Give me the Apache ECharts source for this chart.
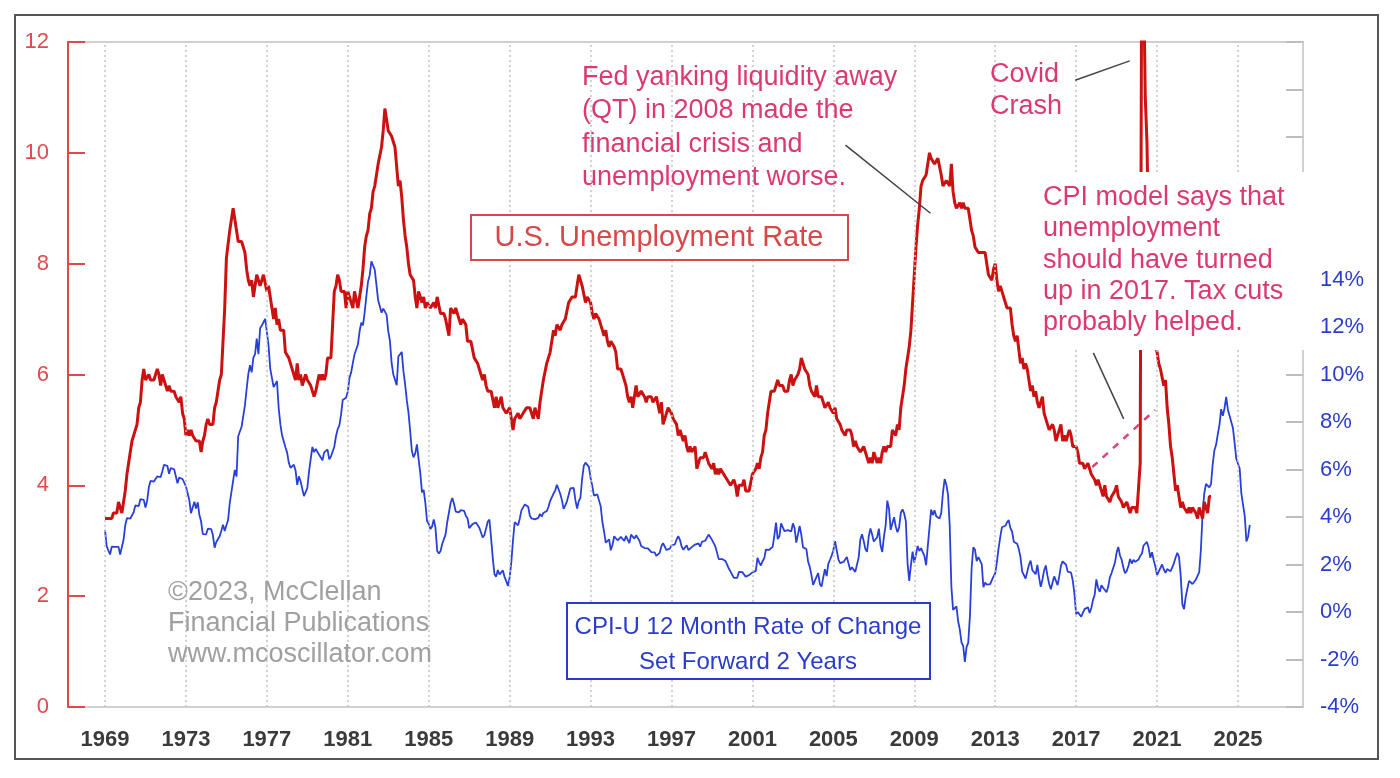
<!DOCTYPE html>
<html>
<head>
<meta charset="utf-8">
<script src="https://cdn.jsdelivr.net/npm/echarts@6/dist/echarts.min.js"></script>
<style>
html,body{margin:0;padding:0;background:#fff;}
#chart{width:1400px;height:778px;}
</style>
</head>
<body>
<div id="chart"></div>
<script>
// ---------------- DATA ----------------
const xTickYears = [1969,1973,1977,1981,1985,1989,1993,1997,2001,2005,2009,2013,2017,2021,2025];
const leftTicks = [0,2,4,6,8,10,12];
const rightTickLabels = ['-4%','-2%','0%','2%','4%','6%','8%','10%','12%','14%'];

// U.S. unemployment rate, monthly, starting Jan 1969
const unempStartYear = 1969;
const unemp1969_1978 = [
3.4,3.4,3.4,3.4,3.4,3.5,3.5,3.5,3.7,3.7,3.5,3.5,
3.9,4.2,4.4,4.6,4.8,4.9,5.0,5.1,5.4,5.5,5.9,6.1,
5.9,5.9,6.0,5.9,5.9,5.9,6.0,6.1,6.0,5.8,6.0,6.0,
5.8,5.7,5.8,5.7,5.7,5.7,5.6,5.6,5.5,5.6,5.3,5.2,
4.9,5.0,4.9,5.0,4.9,4.9,4.8,4.8,4.8,4.6,4.8,4.9,
5.1,5.2,5.1,5.1,5.1,5.4,5.5,5.5,5.9,6.0,6.6,7.2,
8.1,8.1,8.6,8.8,9.0,8.8,8.6,8.4,8.4,8.4,8.3,8.2,
7.9,7.7,7.6,7.7,7.4,7.6,7.8,7.8,7.6,7.7,7.8,7.8,
7.5,7.6,7.4,7.2,7.0,7.2,6.9,7.0,6.8,6.8,6.8,6.4,
6.4,6.3,6.3,6.1,6.0,5.9,6.2,5.9,6.0,5.8,5.9,6.0];
const unemp1979_1988 = [
5.9,5.9,5.8,5.8,5.6,5.7,5.7,6.0,5.9,6.0,5.9,6.0,
6.3,6.3,6.3,6.9,7.5,7.6,7.8,7.7,7.5,7.5,7.5,7.2,
7.5,7.4,7.4,7.2,7.5,7.5,7.2,7.4,7.6,7.9,8.3,8.5,
8.6,8.9,9.0,9.3,9.4,9.6,9.8,9.8,10.1,10.4,10.8,10.8,
10.4,10.4,10.3,10.2,10.1,10.1,9.4,9.5,9.2,8.8,8.5,8.3,
8.0,7.8,7.8,7.7,7.4,7.2,7.5,7.5,7.3,7.4,7.2,7.3,
7.3,7.2,7.2,7.3,7.2,7.4,7.4,7.1,7.1,7.1,7.0,7.0,
6.7,7.2,7.2,7.1,7.2,7.2,7.0,6.9,7.0,7.0,6.9,6.6,
6.6,6.6,6.6,6.3,6.3,6.2,6.1,6.0,5.9,6.0,5.8,5.7,
5.7,5.7,5.7,5.4,5.6,5.4,5.4,5.6,5.4,5.4,5.3,5.3];
const unemp1989_1998 = [
5.4,5.2,5.0,5.2,5.2,5.3,5.2,5.2,5.3,5.3,5.4,5.4,
5.4,5.3,5.2,5.4,5.4,5.2,5.5,5.7,5.9,5.9,6.2,6.3,
6.4,6.6,6.8,6.7,6.9,6.9,6.8,6.9,6.9,7.0,7.0,7.3,
7.3,7.4,7.4,7.4,7.6,7.8,7.7,7.6,7.6,7.3,7.4,7.4,
7.3,7.1,7.0,7.1,7.1,7.0,6.9,6.8,6.7,6.8,6.6,6.5,
6.6,6.6,6.5,6.4,6.1,6.1,6.1,6.0,5.9,5.8,5.6,5.5,
5.6,5.4,5.4,5.8,5.6,5.6,5.7,5.7,5.6,5.5,5.6,5.6,
5.6,5.5,5.5,5.6,5.6,5.3,5.5,5.1,5.2,5.2,5.4,5.4,
5.3,5.2,5.2,5.1,4.9,5.0,4.9,4.8,4.9,4.7,4.6,4.7,
4.6,4.6,4.7,4.3,4.4,4.5,4.5,4.5,4.6,4.5,4.4,4.4];
const unemp1999_2008 = [
4.3,4.4,4.2,4.3,4.2,4.3,4.3,4.2,4.2,4.1,4.1,4.0,
4.0,4.1,4.0,3.8,4.0,4.0,4.0,4.1,3.9,3.9,3.9,3.9,
4.2,4.2,4.3,4.4,4.3,4.5,4.6,4.9,5.0,5.3,5.5,5.7,
5.7,5.7,5.7,5.9,5.8,5.8,5.8,5.7,5.7,5.7,5.9,6.0,
5.8,5.9,5.9,6.0,6.1,6.3,6.2,6.1,6.1,6.0,5.8,5.7,
5.7,5.6,5.8,5.6,5.6,5.6,5.5,5.4,5.4,5.5,5.4,5.4,
5.3,5.4,5.2,5.2,5.1,5.0,5.0,4.9,5.0,5.0,5.0,4.9,
4.7,4.8,4.7,4.7,4.6,4.6,4.7,4.7,4.5,4.4,4.5,4.4,
4.6,4.5,4.4,4.5,4.4,4.6,4.7,4.6,4.7,4.7,4.7,5.0,
5.0,4.9,5.1,5.0,5.4,5.6,5.8,6.1,6.1,6.5,6.8,7.3];
const unemp2009_2018 = [
7.8,8.3,8.7,9.0,9.4,9.5,9.5,9.6,9.8,10.0,9.9,9.9,
9.8,9.8,9.9,9.9,9.6,9.4,9.4,9.5,9.5,9.4,9.8,9.3,
9.1,9.0,9.0,9.1,9.0,9.1,9.0,9.0,9.0,8.8,8.6,8.5,
8.3,8.3,8.2,8.2,8.2,8.2,8.2,8.0,7.8,7.8,7.7,7.9,
8.0,7.7,7.5,7.6,7.5,7.5,7.3,7.2,7.2,7.2,6.9,6.7,
6.6,6.7,6.7,6.2,6.3,6.1,6.2,6.1,5.9,5.7,5.8,5.6,
5.7,5.5,5.4,5.4,5.6,5.3,5.2,5.1,5.0,5.0,5.1,5.0,
4.8,4.9,5.0,5.1,4.8,4.9,4.8,4.9,5.0,4.9,4.7,4.7,
4.7,4.6,4.4,4.4,4.4,4.3,4.3,4.4,4.3,4.2,4.2,4.1,
4.0,4.1,4.0,4.0,3.8,4.0,3.8,3.8,3.7,3.8,3.8,3.9];
const unemp2019_2023 = [
4.0,3.8,3.8,3.7,3.6,3.6,3.7,3.6,3.5,3.6,3.6,3.6,
3.5,3.5,4.4,14.8,13.2,11.0,10.2,8.4,7.8,6.8,6.7,6.7,
6.4,6.2,6.1,6.1,5.8,5.9,5.4,5.1,4.7,4.5,4.2,3.9,
4.0,3.8,3.6,3.7,3.6,3.6,3.5,3.6,3.5,3.6,3.6,3.5,
3.4,3.6,3.5,3.4,3.7,3.6,3.5,3.8,3.8];

// CPI-U 12-month rate of change (%), monthly, starting Jan 1967; plotted 2 years forward
const cpiStartYear = 1967;
const cpiShiftYears = 2;
const cpi1967_1976 = [
3.46,2.76,2.76,2.42,2.75,2.75,2.74,2.74,2.74,2.42,2.74,3.04,
3.65,3.95,3.94,3.93,3.92,4.20,4.49,4.48,4.46,4.75,4.74,4.72,
4.40,4.69,5.25,5.52,5.51,5.49,5.44,5.71,5.70,5.68,5.93,6.20,
6.18,6.15,5.82,6.06,6.04,6.01,5.98,5.42,5.66,5.62,5.60,5.57,
5.29,5.00,4.71,4.16,4.40,4.64,4.36,4.62,4.08,3.81,3.28,3.27,
3.27,3.51,3.50,3.49,3.23,2.71,2.95,2.94,3.19,3.42,3.67,3.41,
3.65,3.87,4.59,5.06,5.53,5.98,5.70,7.40,7.36,7.80,8.25,8.71,
9.39,10.02,10.39,10.09,10.71,10.86,11.51,10.86,11.95,12.06,12.20,12.34,
11.80,11.23,10.25,10.21,9.47,9.39,9.72,8.60,7.91,7.44,7.38,6.94,
6.72,6.29,6.07,6.05,6.20,5.97,5.35,5.71,5.50,5.46,4.88,4.86];
const cpi1977_1986 = [
5.22,5.91,6.44,6.95,6.73,6.87,6.83,6.62,6.60,6.39,6.72,6.70,
6.84,6.43,6.55,6.50,6.96,7.40,7.70,7.86,8.31,8.93,8.89,9.02,
9.28,9.86,10.09,10.49,10.85,10.89,11.26,11.82,12.18,12.07,12.61,13.29,
13.91,14.18,14.76,14.73,14.41,14.38,13.13,12.87,12.60,12.77,12.65,12.52,
11.83,11.41,10.49,10.00,9.78,9.55,10.76,10.80,10.95,10.14,9.59,8.92,
8.39,7.62,6.78,6.51,6.68,7.06,6.44,5.85,5.04,5.14,4.59,3.83,
3.71,3.49,3.60,3.90,3.55,2.58,2.46,2.56,2.86,2.85,3.27,3.79,
4.19,4.60,4.80,4.56,4.23,4.22,4.20,4.29,4.27,4.26,4.05,3.95,
3.53,3.52,3.70,3.69,3.77,3.76,3.55,3.35,3.14,3.23,3.51,3.80,
3.89,3.11,2.26,1.59,1.49,1.77,1.58,1.57,1.75,1.47,1.30,1.10];
const cpi1987_1996 = [
1.46,2.10,3.03,3.78,3.86,3.65,3.93,4.28,4.36,4.53,4.53,4.43,
4.05,3.94,3.93,3.90,3.89,3.96,4.13,4.02,4.17,4.25,4.25,4.42,
4.67,4.83,4.98,5.11,5.36,5.17,4.98,4.71,4.34,4.49,4.66,4.65,
5.20,5.26,5.23,4.71,4.36,4.67,4.82,5.62,6.16,6.29,6.27,6.11,
5.65,5.31,4.90,4.89,4.95,4.70,4.45,3.80,3.39,2.92,2.99,3.06,
2.60,2.82,3.19,3.18,3.02,3.09,3.16,3.13,2.99,3.20,3.05,2.90,
3.26,3.25,3.09,3.23,3.22,3.00,2.78,2.77,2.69,2.75,2.68,2.75,
2.52,2.52,2.51,2.36,2.29,2.49,2.77,2.90,2.96,2.61,2.67,2.67,
2.80,2.86,2.85,3.05,3.19,3.04,2.76,2.62,2.54,2.81,2.61,2.54,
2.73,2.65,2.84,2.90,2.89,2.75,2.95,2.88,3.00,2.99,3.26,3.32];
const cpi1997_2006 = [
3.04,3.03,2.76,2.50,2.23,2.30,2.23,2.23,2.15,2.08,1.83,1.70,
1.57,1.44,1.37,1.44,1.69,1.68,1.68,1.62,1.49,1.49,1.55,1.61,
1.67,1.61,1.73,2.28,2.09,1.96,2.14,2.26,2.63,2.56,2.62,2.68,
2.74,3.22,3.76,3.07,3.19,3.73,3.66,3.41,3.45,3.45,3.45,3.39,
3.73,3.53,2.92,3.27,3.62,3.25,2.72,2.72,2.65,2.13,1.90,1.55,
1.14,1.14,1.48,1.64,1.18,1.07,1.46,1.80,1.51,2.03,2.20,2.38,
2.60,2.98,3.02,2.22,2.06,2.11,2.11,2.16,2.32,2.04,1.77,1.88,
1.93,1.69,1.74,2.29,3.05,3.27,2.99,2.65,2.54,3.19,3.52,3.26,
2.97,3.01,3.15,3.51,2.80,2.53,3.17,3.64,4.69,4.35,3.46,3.42,
3.99,3.60,3.36,3.55,4.17,4.32,4.15,3.82,2.06,1.31,1.97,2.54];
const cpi2007_2016 = [
2.08,2.42,2.78,2.57,2.69,2.69,2.36,1.97,2.76,3.54,4.31,4.08,
4.28,4.03,3.98,3.94,4.18,5.02,5.60,5.37,4.94,3.66,1.07,0.09,
0.03,0.24,-0.38,-0.74,-1.28,-1.43,-2.10,-1.48,-1.29,-0.18,1.84,2.72,
2.63,2.14,2.31,2.24,2.02,1.05,1.24,1.15,1.14,1.17,1.14,1.50,
1.63,2.11,2.68,3.16,3.57,3.56,3.63,3.77,3.87,3.53,3.39,2.96,
2.93,2.87,2.65,2.30,1.70,1.66,1.41,1.69,1.99,2.16,1.76,1.74,
1.59,1.98,1.47,1.06,1.36,1.75,1.96,1.52,1.18,0.96,1.24,1.50,
1.58,1.13,1.51,1.95,2.13,2.07,1.99,1.70,1.66,1.66,1.32,0.76,
-0.09,0.00,-0.07,-0.20,-0.04,0.12,0.17,0.20,-0.04,0.17,0.50,0.73,
1.37,1.02,0.85,1.13,1.02,1.01,0.83,1.06,1.46,1.64,1.69,2.07];
const cpi2017_2023 = [
2.50,2.74,2.38,2.20,1.87,1.63,1.73,1.94,2.23,2.04,2.20,2.11,
2.07,2.21,2.36,2.46,2.80,2.87,2.95,2.70,2.28,2.52,2.18,1.91,
1.55,1.52,1.86,2.00,1.79,1.65,1.81,1.75,1.71,1.76,2.05,2.29,
2.49,2.33,1.54,0.33,0.12,0.65,0.99,1.31,1.37,1.18,1.17,1.36,
1.40,1.68,2.62,4.16,4.99,5.39,5.37,5.25,5.39,6.22,6.81,7.04,
7.48,7.87,8.54,8.26,8.58,9.06,8.52,8.26,8.20,7.75,7.11,6.45,
6.41,6.04,4.98,4.93,4.05,2.97,3.18,3.67];

// "Should have turned up" model line (year, unemployment %)
const modelLine = [[2017.8, 4.33], [2020.9, 5.36]];
// Pointer lines for annotations (year, left-axis value)
const pointerFed = [[2005.6, 10.14], [2009.8, 8.91]];
const pointerCovid = [[2016.95, 11.31], [2019.65, 11.66]];
const pointerCpi = [[2017.85, 6.39], [2019.35, 5.20]];

// ---------------- BUILD ----------------
function monthly(arrays, startYear) {
  const flat = [].concat(...arrays);
  return flat.map((v, i) => [startYear + i / 12, v]);
}
const unempData = monthly([unemp1969_1978, unemp1979_1988, unemp1989_1998, unemp1999_2008, unemp2009_2018, unemp2019_2023], unempStartYear);
const cpiData = monthly([cpi1967_1976, cpi1977_1986, cpi1987_1996, cpi1997_2006, cpi2007_2016, cpi2017_2023], cpiStartYear + cpiShiftYears);

const FONT = '"Liberation Sans", Arial, sans-serif';
const PINK = '#dc3a6e';

const chart = echarts.init(document.getElementById('chart'));
const pointerStyle = { color: '#444', width: 1.5 };

function pointerSeries(d) {
  return { type: 'line', data: d, symbol: 'none', silent: true, z: 6, lineStyle: pointerStyle, yAxisIndex: 0 };
}

chart.setOption({
  animation: false,
  backgroundColor: '#fff',
  grid: { left: 68, top: 42, right: 97, bottom: 71, show: true, borderColor: '#d0d0d0', borderWidth: 2, containLabel: false, outerBoundsMode: 'none' },
  xAxis: {
    type: 'value', min: 1967.171, max: 2028.213,
    axisLine: { show: false }, axisTick: { show: false }, splitLine: { show: false },
    axisLabel: { customValues: xTickYears, formatter: v => String(v), color: '#3a3a3a', fontSize: 22, fontWeight: 'bold', margin: 22, fontFamily: FONT }
  },
  yAxis: [
    {
      type: 'value', position: 'left', min: leftTicks[0], max: leftTicks[leftTicks.length - 1], interval: 2,
      axisLine: { show: true, lineStyle: { color: '#de4a4a', width: 2 } },
      axisTick: { show: true, inside: true, length: 17, lineStyle: { color: '#de4a4a', width: 2 } },
      axisLabel: { color: '#e04b4b', fontSize: 22, margin: 19, fontFamily: FONT },
      splitLine: { show: false }
    },
    {
      type: 'value', position: 'right', min: -4, max: 24, interval: 2,
      axisLine: { show: true, lineStyle: { color: '#d0d0d0', width: 2 } },
      axisTick: { show: true, inside: true, length: 17, lineStyle: { color: '#bdbdbd', width: 2 } },
      axisLabel: { color: '#2a3ccc', fontSize: 22, margin: 17, fontFamily: FONT,
        formatter: v => { const i = (v + 4) / 2; return i < rightTickLabels.length ? rightTickLabels[i] : ''; } },
      splitLine: { show: false }
    }
  ],
  series: [
    {
      type: 'line', data: [], z: 1, silent: true,
      markLine: {
        silent: true, symbol: 'none', label: { show: false }, animation: false,
        lineStyle: { color: '#c4c4c4', type: [2, 3], width: 1.5 },
        data: xTickYears.map(y => ({ xAxis: y }))
      }
    },
    { name: 'CPI', type: 'line', yAxisIndex: 1, data: cpiData, symbol: 'none', z: 3, lineStyle: { color: '#2840d8', width: 1.8 } },
    { name: 'Unemployment', type: 'line', yAxisIndex: 0, data: unempData, symbol: 'none', z: 4, lineStyle: { color: '#cc1111', width: 3 } },
    { name: 'Model', type: 'line', yAxisIndex: 0, data: modelLine, symbol: 'none', z: 5, lineStyle: { color: '#e0407a', width: 2.5, type: [7, 7] } },
    pointerSeries(pointerFed),
    pointerSeries(pointerCovid),
    pointerSeries(pointerCpi)
  ],
  graphic: [
    { type: 'rect', z: 200, silent: true, shape: { x: 15, y: 15, width: 1363, height: 744 }, style: { fill: null, stroke: '#555', lineWidth: 2 } },
    // white panel behind CPI model note
    { type: 'rect', z: 100, silent: true, shape: { x: 1032, y: 172, width: 274, height: 178 }, style: { fill: '#fff' } },
    { type: 'text', z: 101, silent: true, x: 1043, y: 182, style: { text: 'CPI model says that\nunemployment\nshould have turned\nup in 2017. Tax cuts\nprobably helped.', font: '27px ' + FONT, fill: PINK, lineHeight: 31.3, verticalAlign: 'top' } },
    { type: 'text', z: 101, silent: true, x: 582, y: 61, style: { text: 'Fed yanking liquidity away\n(QT) in 2008 made the\nfinancial crisis and\nunemployment worse.', font: '27px ' + FONT, fill: PINK, lineHeight: 33.3, verticalAlign: 'top' } },
    { type: 'text', z: 101, silent: true, x: 990, y: 59, style: { text: 'Covid\nCrash', font: '27px ' + FONT, fill: PINK, lineHeight: 32, verticalAlign: 'top' } },
    // Unemployment title box
    { type: 'rect', z: 100, silent: true, shape: { x: 471, y: 215, width: 377, height: 45 }, style: { fill: '#fff', stroke: '#d84848', lineWidth: 2 } },
    { type: 'text', z: 101, silent: true, x: 659, y: 238, style: { text: 'U.S. Unemployment Rate', font: '29px ' + FONT, fill: '#d84848', align: 'center', verticalAlign: 'middle' } },
    // CPI title box
    { type: 'rect', z: 100, silent: true, shape: { x: 567, y: 603, width: 363, height: 76 }, style: { fill: '#fff', stroke: '#2a3ccc', lineWidth: 2 } },
    { type: 'text', z: 101, silent: true, x: 748, y: 645, style: { text: 'CPI-U 12 Month Rate of Change\nSet Forward 2 Years', font: '24px ' + FONT, fill: '#2a3ccc', align: 'center', verticalAlign: 'middle', lineHeight: 35 } },
    // copyright
    { type: 'text', z: 101, silent: true, x: 168, y: 577, style: { text: '©2023, McClellan\nFinancial Publications\nwww.mcoscillator.com', font: '27px ' + FONT, fill: '#a0a0a0', lineHeight: 31, verticalAlign: 'top' } }
  ]
});
</script>
</body>
</html>
